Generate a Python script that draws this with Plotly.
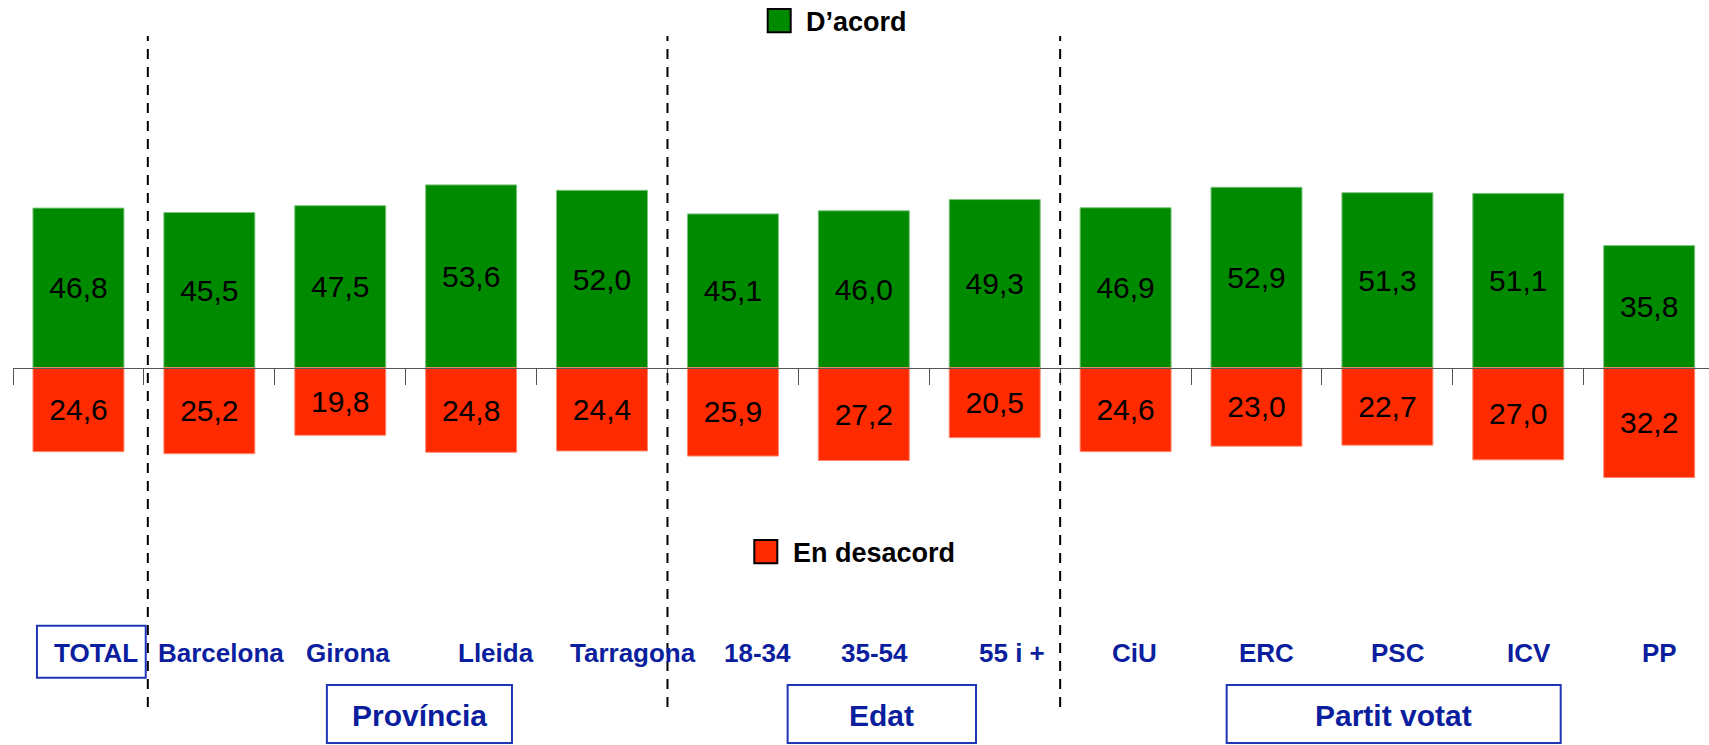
import plotly.graph_objects as go

# ---------------- data ----------------
categories = ["TOTAL", "Barcelona", "Girona", "Lleida", "Tarragona",
              "18-34", "35-54", "55 i +", "CiU", "ERC", "PSC", "ICV", "PP"]
agree = [46.8, 45.5, 47.5, 53.6, 52.0, 45.1, 46.0, 49.3, 46.9, 52.9, 51.3, 51.1, 35.8]
disagree = [24.6, 25.2, 19.8, 24.8, 24.4, 25.9, 27.2, 20.5, 24.6, 23.0, 22.7, 27.0, 32.2]
series_names = ["D\u2019acord", "En desacord"]
group_names = ["Prov\u00edncia", "Edat", "Partit votat"]

# ---------------- layout constants ----------------
W, H = 1709, 745
ML = 13
GREEN = "#008A00"
RED = "#FF2B00"
BLUE_TXT = "#0A1E9E"
BLUE_BOX = "#2035B5"
FONT = "Arial, Liberation Sans, sans-serif"
YMIN, YMAX = -110.6, 107.8


def xp(px):
    return (px - ML) / (W - ML)


def yp(py):
    return 1 - py / H


def fmt(v):
    return f"{v:.1f}".replace(".", ",")


fig = go.Figure()
fig.add_trace(go.Bar(
    x=categories, y=agree, name=series_names[0],
    marker=dict(color=GREEN, line=dict(color="#7CC47C", width=1)),
    text=[fmt(v) for v in agree], textposition="inside",
    insidetextanchor="middle", textangle=0,
    textfont=dict(family=FONT, size=30, color="black"),
    showlegend=False,
))
fig.add_trace(go.Bar(
    x=categories, y=[-v for v in disagree], name=series_names[1],
    marker=dict(color=RED, line=dict(color="#FF8A70", width=1)),
    text=[fmt(v) for v in disagree], textposition="inside",
    insidetextanchor="middle", textangle=0,
    textfont=dict(family=FONT, size=30, color="black"),
    showlegend=False,
))

shapes = []
annotations = []

# dashed dividers between groups
for xd in [0.53, 4.5, 7.5]:
    shapes.append(dict(type="line", xref="x", yref="paper", x0=xd, x1=xd,
                       y0=yp(707), y1=yp(36),
                       line=dict(color="black", width=2, dash="10px,8px")))

# category labels
label_offset = [0.136, 0.088, 0.057, 0.19, 0.24, 0.19, 0.08, 0.13, 0.07, 0.08, 0.08, 0.08, 0.08]
for i, (c, off) in enumerate(zip(categories, label_offset)):
    annotations.append(dict(x=i + off, y=yp(653), xref="x", yref="paper",
                            text=c, showarrow=False, xanchor="center", yanchor="middle",
                            font=dict(family=FONT, size=26, color=BLUE_TXT, weight="bold")))

# TOTAL box
shapes.append(dict(type="rect", xref="x", yref="paper", x0=-0.317, x1=0.514,
                   y0=yp(677.7), y1=yp(625.7), line=dict(color=BLUE_BOX, width=2)))

# group boxes and labels
group_boxes = [(1.898, 3.312), (5.418, 6.857), (8.772, 11.324)]
for name, (x0, x1) in zip(group_names, group_boxes):
    shapes.append(dict(type="rect", xref="x", yref="paper", x0=x0, x1=x1,
                       y0=yp(743), y1=yp(685), line=dict(color=BLUE_BOX, width=2)))
    annotations.append(dict(x=(x0 + x1) / 2, y=yp(715), xref="x", yref="paper",
                            text=name, showarrow=False, xanchor="center", yanchor="middle",
                            font=dict(family=FONT, size=30, color=BLUE_TXT, weight="bold")))

# legend-like keys
for (sx0, sx1, sy0, sy1, tx, ty, col, name) in [
    (767.7, 790.7, 9, 32.3, 804, 22, GREEN, series_names[0]),
    (754.3, 777.3, 540, 563.3, 790.5, 553, RED, series_names[1]),
]:
    shapes.append(dict(type="rect", xref="paper", yref="paper",
                       x0=xp(sx0), x1=xp(sx1), y0=yp(sy1), y1=yp(sy0),
                       fillcolor=col, line=dict(color="black", width=2)))
    annotations.append(dict(x=xp(tx), y=yp(ty), xref="paper", yref="paper",
                            text=name, showarrow=False, xanchor="left", yanchor="middle",
                            font=dict(family=FONT, size=27, color="black", weight="bold")))

fig.update_layout(
    width=W, height=H,
    margin=dict(l=ML, r=0, t=0, b=0),
    paper_bgcolor="white", plot_bgcolor="white",
    barmode="relative", bargap=0.305,
    shapes=shapes, annotations=annotations,
    xaxis=dict(type="category", categoryorder="array", categoryarray=categories,
               range=[-0.5, 12.457], anchor="free",
               position=(0 - YMIN) / (YMAX - YMIN),
               showline=True, linecolor="#555555", linewidth=1,
               ticks="outside", tickson="boundaries", ticklen=16,
               tickcolor="#555555", tickwidth=1,
               showticklabels=False, showgrid=False, zeroline=False),
    yaxis=dict(range=[YMIN, YMAX], visible=False, showgrid=False, zeroline=False),
    font=dict(family=FONT),
)

fig.write_html("out.html", config={"displayModeBar": False},
               post_script="document.body.style.margin='0';")
